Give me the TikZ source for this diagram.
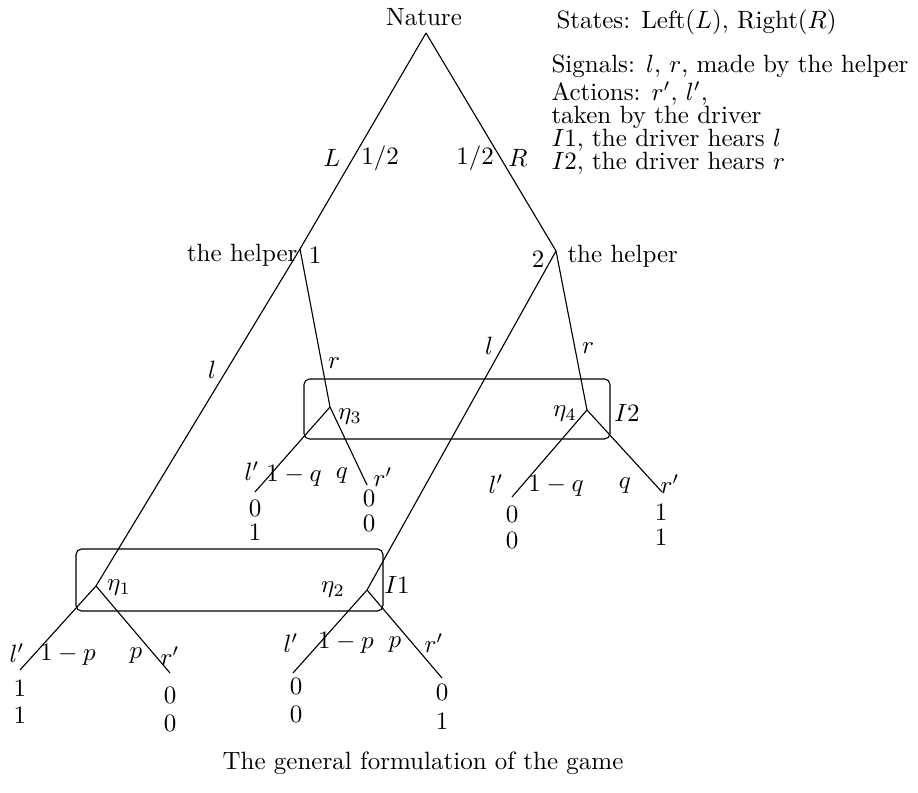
\documentclass[tikz,border=0pt]{standalone}
\begin{document}
\begin{tikzpicture}[x=0.4pt,y=-0.4pt,
  lbl/.style={inner sep=0pt},
  leg/.style={inner sep=0pt,anchor=base west},
  edge/.style={line width=0.45pt},
  infoset/.style={line width=0.45pt,rounded corners=2.2pt}]
\useasboundingbox (0,0) rectangle (918,792);
% vertices
\coordinate (N0) at (426,33);
\coordinate (H1) at (300,249);
\coordinate (H2) at (556,251);
\coordinate (E3) at (330,407);
\coordinate (E4) at (587,410);
\coordinate (E1) at (96,586);
\coordinate (E2) at (367,590);
\coordinate (E3L) at (255,492);
\coordinate (E3R) at (367,485);
\coordinate (E4L) at (512,497);
\coordinate (E4R) at (662,492);
\coordinate (E1L) at (20,670);
\coordinate (E1R) at (170,673);
\coordinate (E2L) at (293,673);
\coordinate (E2R) at (442,678);
% edges
\draw[edge] (N0) -- (H1);
\draw[edge] (N0) -- (H2);
\draw[edge] (H1) -- (E1);
\draw[edge] (H1) -- (E3);
\draw[edge] (H2) -- (E2);
\draw[edge] (H2) -- (E4);
\draw[edge] (E3) -- (E3L);
\draw[edge] (E3) -- (E3R);
\draw[edge] (E4) -- (E4L);
\draw[edge] (E4) -- (E4R);
\draw[edge] (E1) -- (E1L);
\draw[edge] (E1) -- (E1R);
\draw[edge] (E2) -- (E2L);
\draw[edge] (E2) -- (E2R);
% information sets
\draw[infoset] (304,379) rectangle (610,439);
\draw[infoset] (76,549) rectangle (383,611);
% labels
\node[lbl] (nature) at (424,17) {Nature};
\node[lbl] (lL) at (332,158) {$L$};
\node[lbl] (lLp) at (380,158) {$1/2$};
\node[lbl] (lRp) at (475,158) {$1/2$};
\node[lbl] (lR) at (518,158) {$R$};
\node[lbl,anchor=east] (h1) at (298,255) {the helper};
\node[lbl] (h1n) at (315,255) {1};
\node[lbl] (h2n) at (538,259) {2};
\node[lbl,anchor=west] (h2) at (567,256) {the helper};
\node[lbl] (s1l) at (212,370) {$l$};
\node[lbl] (s1r) at (334,363) {$r$};
\node[lbl] (s2l) at (489,346) {$l$};
\node[lbl] (s2r) at (588,348) {$r$};
\node[lbl] (eta3) at (350,417) {$\eta_3$};
\node[lbl] (eta4) at (565,414) {$\eta_4$};
\node[lbl] (i2) at (627,413) {$I2$};
\node[lbl] (eta1) at (119,588) {$\eta_1$};
\node[lbl] (eta2) at (333,590) {$\eta_2$};
\node[lbl] (i1) at (397,585) {$I1$};
% actions at eta3
\node[lbl] (a3l) at (252,471) {$l'$};
\node[lbl] (a3lp) at (294,476) {$1-q$};
\node[lbl] (a3rp) at (342,476) {$q$};
\node[lbl] (a3r) at (383,477) {$r'$};
% actions at eta4
\node[lbl] (a4l) at (496,484) {$l'$};
\node[lbl] (a4lp) at (556,486) {$1-q$};
\node[lbl] (a4rp) at (625,486) {$q$};
\node[lbl] (a4r) at (670,484) {$r'$};
% actions at eta1
\node[lbl] (a1l) at (17,653) {$l'$};
\node[lbl] (a1lp) at (68,655) {$1-p$};
\node[lbl] (a1rp) at (136,656) {$p$};
\node[lbl] (a1r) at (170,656) {$r'$};
% actions at eta2
\node[lbl] (a2l) at (291,643) {$l'$};
\node[lbl] (a2lp) at (346,643) {$1-p$};
\node[lbl] (a2rp) at (395,645) {$p$};
\node[lbl] (a2r) at (434,643) {$r'$};
% payoffs
\node[lbl] (p3la) at (255,508) {0};
\node[lbl] (p3lb) at (255,532) {1};
\node[lbl] (p3ra) at (369,498) {0};
\node[lbl] (p3rb) at (369,523) {0};
\node[lbl] (p4la) at (512,514) {0};
\node[lbl] (p4lb) at (512,540) {0};
\node[lbl] (p4ra) at (661,512) {1};
\node[lbl] (p4rb) at (661,537) {1};
\node[lbl] (p1la) at (20,688) {1};
\node[lbl] (p1lb) at (20,715) {1};
\node[lbl] (p1ra) at (170,695) {0};
\node[lbl] (p1rb) at (170,723) {0};
\node[lbl] (p2la) at (296,686) {0};
\node[lbl] (p2lb) at (296,714) {0};
\node[lbl] (p2ra) at (442,692) {0};
\node[lbl] (p2rb) at (442,721) {1};
% legend
\node[leg] (g1) at (556,29) {States: Left$(L)$, Right$(R)$};
\node[leg] (g2) at (551,73) {Signals: $l$, $r$, made by the helper};
\node[leg] (g3) at (551,101) {Actions: $r'$, $l'$,};
\node[leg] (g4) at (551,124) {taken by the driver};
\node[leg] (g5) at (551,147) {$I1$, the driver hears $l$};
\node[leg] (g6) at (551,170) {$I2$, the driver hears $r$};
% caption
\node[lbl] (cap) at (423,763) {The general formulation of the game};
\end{tikzpicture}
\end{document}
